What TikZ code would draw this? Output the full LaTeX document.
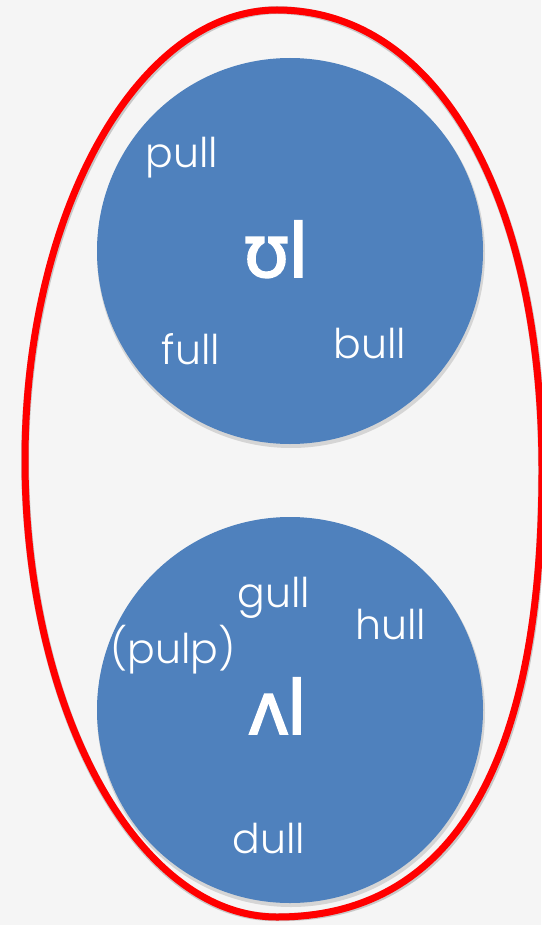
\documentclass[tikz,border=0pt]{standalone}
\usepackage{fontspec}
\setmainfont{Poppins Light}
\newfontfamily\ipafont{Noto Sans}[AutoFakeBold=2.5]
\definecolor{bgc}{HTML}{F5F5F5}
\definecolor{blobc}{HTML}{4F81BD}
\definecolor{ringc}{HTML}{FF0000}
\tikzset{
  blob/.style={circle, fill=blobc, minimum size=386pt, inner sep=0pt},
  word/.style={text=white, anchor=base, font=\fontsize{41}{41}\selectfont, inner sep=0pt},
  sym/.style={text=white, anchor=base, font=\ipafont\bfseries\fontsize{74}{74}\selectfont, inner sep=0pt},
  ring/.style={draw=ringc, line width=7pt},
  ringshadow/.style={draw=black, opacity=0.18, line width=8pt}
}
\begin{document}
\begin{tikzpicture}[x=1pt,y=-1pt]
\fill[bgc] (0,0) rectangle (541,925);
\useasboundingbox (0,0) rectangle (541,925);
% egg-shaped ring outline
\coordinate (T) at (277,10);
\coordinate (R) at (542,470);
\coordinate (B) at (277,917);
\coordinate (L) at (25,460);
% shadows
\fill[black, opacity=0.13] (291,254) circle (194);
\fill[black, opacity=0.13] (291,713) circle (194);
\draw[ringshadow, shift={(1,3)}] (T) .. controls (436,10) and (542,194) .. (R)
  .. controls (542,765) and (452,917) .. (B)
  .. controls (138,917) and (25,711) .. (L)
  .. controls (25,212) and (138,10) .. (T) -- cycle;
% circles
\node[blob] (top) at (290,251) {};
\node[blob] (bot) at (290,710) {};
% ring
\draw[ring] (T) .. controls (436,10) and (542,194) .. (R)
  .. controls (542,765) and (452,917) .. (B)
  .. controls (138,917) and (25,711) .. (L)
  .. controls (25,212) and (138,10) .. (T) -- cycle;
% words
\node[word] (pull) at (182,168) {pull};
\node[word] (full) at (191,364) {full};
\node[word] (bull) at (370,358) {bull};
\node[sym] (ul) at (276,277) {ʊl};
\node[word] (gull) at (274,607) {gull};
\node[word] (hull) at (391,639) {hull};
\node[word] (pulp) at (173,663) {(pulp)};
\node[sym] (al) at (278,734) {ʌl};
\node[word] (dull) at (269,853) {dull};
\end{tikzpicture}
\end{document}
